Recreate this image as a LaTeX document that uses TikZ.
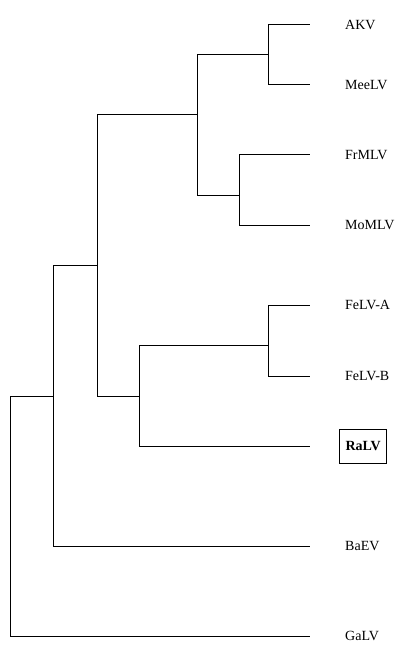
\documentclass[tikz,border=0pt]{standalone}
\usepackage{fontspec}
\setmainfont{Liberation Serif}
\usetikzlibrary{positioning}
\newcommand{\taxon}[3]{\coordinate (#1) at (310,#2); \node(#1l)[taxlabel, right=35pt of #1]{#3}}

\begin{document}
\begin{tikzpicture}[
        x=1pt, y=-1pt,
        every node/.style={font=\fontsize{14}{16}\selectfont},
        branch/.style={line width=1pt,draw=black},
        taxlabel/.style={anchor=west,inner sep=0pt},
        boxed/.style={anchor=west,draw=black,line width=1pt,inner xsep=6pt,
                      minimum height=34pt,font=\fontsize{14}{16}\selectfont\bfseries}
      ]
      \useasboundingbox (0,0) rectangle (400,647);
      % leaves
      \taxon{akv}{25}{AKV};
      \taxon{meelv}{85}{MeeLV};
      \taxon{frmlv}{155}{FrMLV};
      \taxon{momlv}{225}{MoMLV};
      \taxon{felva}{305}{FeLV-A};
      \taxon{felvb}{376}{FeLV-B};
      \coordinate (ralv) at (310,446); \node(ralvl)[boxed, right=29pt of ralv]{RaLV};
      \taxon{baev}{546}{BaEV};
      \taxon{galv}{636}{GaLV};
      % internal nodes
      \coordinate (n1) at (268,55);
      \coordinate (n2) at (239,195);
      \coordinate (n3) at (197,115);
      \coordinate (n4) at (268,345);
      \coordinate (n5) at (139,396);
      \coordinate (n6) at (97,265);
      \coordinate (n7) at (53,396);
      \coordinate (root) at (10,516);
      % branches
      \draw[branch] (n1) |- (akv);  \draw[branch] (n1) |- (meelv);
      \draw[branch] (n2) |- (frmlv); \draw[branch] (n2) |- (momlv);
      \draw[branch] (n3) |- (n1);   \draw[branch] (n3) |- (n2);
      \draw[branch] (n4) |- (felva); \draw[branch] (n4) |- (felvb);
      \draw[branch] (n5) |- (n4);   \draw[branch] (n5) |- (ralv);
      \draw[branch] (n6) |- (n3);   \draw[branch] (n6) |- (n5);
      \draw[branch] (n7) |- (n6);   \draw[branch] (n7) |- (baev);
      \draw[branch] (root) |- (n7); \draw[branch] (root) |- (galv);
    \end{tikzpicture}
\end{document}
